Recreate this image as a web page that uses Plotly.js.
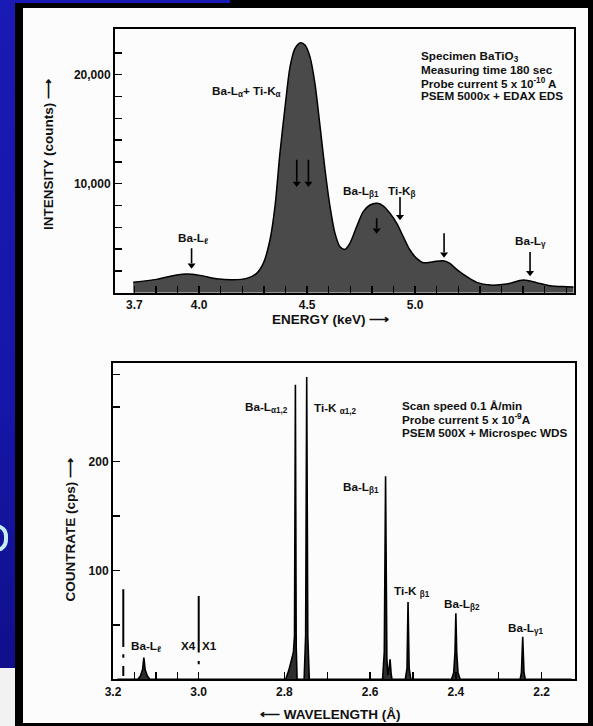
<!DOCTYPE html>
<html>
<head>
<meta charset="utf-8">
<script src="https://cdn.plot.ly/plotly-3.0.1.min.js"></script>
<style>
html,body{margin:0;padding:0;width:593px;height:726px;overflow:hidden;
  background:linear-gradient(180deg,#1a1ab4 0%,#1616a8 55%,#0e0e86 100%);}
#frame{position:absolute;left:15px;top:0;width:578px;height:726px;background:#000;}
#notch{position:absolute;left:15px;top:0;width:215px;height:3px;background:#1a1ab4;}
#paper{position:absolute;left:23px;top:8px;width:565px;height:715px;background:#fcfcfc;}
#slide{position:absolute;left:0;top:668px;width:15px;height:58px;background:#f2f2f2;}
#bowl{position:absolute;left:-6px;top:524px;width:10px;height:20px;border:4px solid #c4ecf4;border-left:none;border-radius:0 12px 12px 0;}
#chart{position:absolute;left:0;top:0;width:593px;height:726px;}
</style>
</head>
<body>
<div id="frame"></div><div id="notch"></div><div id="paper"></div><div id="slide"></div>
<div id="bowl"></div>
<div id="chart"></div>
<script>
// ---------- EDS spectrum (top) ----------
const energy = [3.695,3.803,3.896,3.942,4.004,4.081,4.158,4.220,4.266,4.297,4.328,4.351,4.374,4.398,4.421,4.444,4.470,4.490,4.513,4.536,4.560,4.583,4.606,4.629,4.652,4.675,4.698,4.729,4.760,4.791,4.825,4.853,4.884,4.915,4.945,4.976,5.007,5.038,5.084,5.131,5.161,5.192,5.239,5.285,5.347,5.424,5.501,5.563,5.624,5.702,5.733];
const counts = [948,1223,1621,1712,1590,1284,1193,1315,1774,2691,4832,7890,12782,17064,20733,22415,22935,22721,21651,19204,15229,11253,7890,5443,4220,3975,4526,6055,7431,8043,8195,7951,7278,6361,5137,3914,3150,2752,2844,2936,2691,2141,1468,948,703,795,1162,917,642,550,520];
// marked line positions (keV) and the intensity where each arrow points
const lineE = [3.965,4.452,4.506,4.822,4.930,5.134,5.532];
const lineTip = [2232,9724,9724,5443,6666,3241,1529];
const energyLabelTicks = [3.7,4.0,4.5,5.0];
const energyLabels = ['3.7','4.0','4.5','5.0'];
const energyMinorTicks = [3.8,3.9,4.1,4.2,4.3,4.4,4.6,4.7,4.8,4.9,5.1,5.2,5.3,5.4,5.5,5.6,5.7];
const countLabelTicks = [10000,20000];
const countLabels = ['10,000','20,000'];
const countMinorTicks = [2000,4000,6000,8000,12000,14000,16000,18000,22000];

// ---------- WDS spectrum (bottom) ----------
const wavelength = [3.19,3.142,3.136,3.131,3.128,3.125,3.120,3.114,2.797,2.790,2.784,2.779,2.7765,2.7744,2.7725,2.7705,2.754,2.7505,2.748,2.7455,2.742,2.571,2.567,2.564,2.561,2.559,2.5565,2.5535,2.551,2.549,2.518,2.514,2.5116,2.509,2.505,2.410,2.405,2.402,2.400,2.398,2.395,2.390,2.250,2.247,2.244,2.241,2.238,2.13];
const countrate = [0,0,3,9,20,9,3,0,0,8,17,25,40,270.6,30,0,0,40,277.7,40,0,0,25,186.5,20,4,8,18.3,5,0,0,10,71,10,0,0,6,25,60.6,25,6,0,0,6,39,6,0,0];
// gain-change markers (x4 / x1): wavelength and count-rate spans of each drawn segment
const markerX = [3.176,3.176,null,3.176,3.176,null,3.176,3.176,null,3.0,3.0,null,3.0,3.0];
const markerY = [82.6,29.7,null,22.9,19.9,null,12.2,3.1,null,76.5,24.5,null,16.8,13.8];
const wlLabelTicks = [3.2,3.0,2.8,2.6,2.4,2.2];
const wlLabels = ['3.2','3.0','2.8','2.6','2.4','2.2'];
const wlMinorTicks = [3.15,3.1,3.05,2.7,2.5,2.3];
const rateLabelTicks = [100,200];
const rateLabels = ['100','200'];
const rateMinorTicks = [50,150,250,280];

const W = 593, H = 726;
const FONT = '"Liberation Sans", Arial, Helvetica, sans-serif';
const fx = px => px / W, fy = py => 1 - py / H;

// top plot geometry (pixels) and range
const topY0 = 292.7, topY1 = 29.3, topRange = [0, 24160];
const cpp = (topRange[1] - topRange[0]) / (topY0 - topY1);   // counts per pixel
const arrowLen = [20,27,27,15,23,24,24];                      // pixels

const shaftX = [], shaftY = [], headX = [], headY = [];
lineE.forEach((e,i)=>{
  shaftX.push(e, e, null);
  shaftY.push(lineTip[i] + arrowLen[i]*cpp, lineTip[i] + 5*cpp, null);
  headX.push(e);
  headY.push(lineTip[i] + 3.2*cpp);
});

const traces = [
  {x: energy, y: counts, xaxis:'x', yaxis:'y', type:'scatter', mode:'lines',
   line:{color:'#000', width:1.5, shape:'spline', smoothing:0.8},
   fill:'tozeroy', fillcolor:'#4a4a4a', hoverinfo:'skip'},
  {x: shaftX, y: shaftY, xaxis:'x', yaxis:'y', type:'scatter', mode:'lines',
   line:{color:'#000', width:1.6}, connectgaps:false, hoverinfo:'skip'},
  {x: headX, y: headY, xaxis:'x', yaxis:'y', type:'scatter', mode:'markers',
   marker:{symbol:'triangle-down', size:7, color:'#000', line:{width:0}}, hoverinfo:'skip'},
  {x: wavelength, y: countrate, xaxis:'x2', yaxis:'y2', type:'scatter', mode:'lines',
   line:{color:'#000', width:1.6}, fill:'tozeroy', fillcolor:'#2e2e2e', hoverinfo:'skip'},
  {x: markerX, y: markerY, xaxis:'x2', yaxis:'y2', type:'scatter', mode:'lines',
   line:{color:'#000', width:2}, connectgaps:false, hoverinfo:'skip'}
];

function axisBase(minorVals){
  return {ticks:'inside', ticklen:7, tickwidth:1.5, tickcolor:'#000', showline:true, linewidth:2,
    linecolor:'#000', mirror:true, showgrid:false, zeroline:false, tickmode:'array',
    minor:{tickmode:'array', tickvals:minorVals, ticks:'inside', ticklen:7, tickwidth:1.5, tickcolor:'#000', showgrid:false},
    tickfont:{family:FONT, size:12, color:'#111', weight:'bold'}, fixedrange:true};
}
const layout = {
  width:W, height:H, margin:{l:0,r:0,t:0,b:0},
  paper_bgcolor:'rgba(0,0,0,0)', plot_bgcolor:'rgba(0,0,0,0)', showlegend:false,
  font:{family:FONT, color:'#111', size:12},
  xaxis:Object.assign(axisBase(energyMinorTicks), {domain:[fx(115), fx(574)], anchor:'y', range:[3.6105,5.7355],
    tickvals:energyLabelTicks, ticktext:energyLabels}),
  yaxis:Object.assign(axisBase(countMinorTicks), {domain:[fy(topY0), fy(topY1)], anchor:'x', range:topRange,
    tickvals:countLabelTicks, ticktext:countLabels}),
  xaxis2:Object.assign(axisBase(wlMinorTicks), {domain:[fx(113), fx(575)], anchor:'y2', range:[3.2,2.122],
    tickvals:wlLabelTicks, ticktext:wlLabels}),
  yaxis2:Object.assign(axisBase(rateMinorTicks), {domain:[fy(679.3), fy(363)], anchor:'x2', range:[0,290.5],
    tickvals:rateLabelTicks, ticktext:rateLabels}),
  annotations:[]
};
const ann = layout.annotations;
const lab = {family:FONT, size:11.7, color:'#111', weight:'bold'};
const ttl = {family:FONT, size:13.5, color:'#111', weight:'bold'};

// peak labels (top)
[
  ['Ba-L<sub>α</sub>+ Ti-K<sub>α</sub>', 4.217, 18456],
  ['Ba-L<sub>β1</sub>', 4.749, 9306],
  ['Ti-K<sub>β</sub>', 4.939, 9306],
  ['Ba-L<sub>γ</sub>', 5.536, 4730],
  ['Ba-L<sub>ℓ</sub>', 3.972, 5005]
].forEach(a=>ann.push({xref:'x', yref:'y', x:a[1], y:a[2], text:a[0], showarrow:false, font:lab,
  xanchor:'center', yanchor:'middle'}));

// peak labels (bottom)
[
  ['Ba-L<sub>α1,2</sub>', 2.8407, 250],
  ['Ti-K <sub>α1,2</sub>', 2.682, 249],
  ['Ba-L<sub>β1</sub>', 2.6214, 175.8],
  ['Ti-K <sub>β1</sub>', 2.5024, 80.2],
  ['Ba-L<sub>β2</sub>', 2.3857, 68.3],
  ['Ba-L<sub>γ1</sub>', 2.2364, 47.1],
  ['Ba-L<sub>ℓ</sub>', 3.123, 29.7],
  ['X4', 3.025, 30.6],
  ['X1', 2.9737, 30.6]
].forEach(a=>ann.push({xref:'x2', yref:'y2', x:a[1], y:a[2], text:a[0], showarrow:false, font:lab,
  xanchor:'center', yanchor:'middle'}));

// info blocks
const info1 = ['Specimen BaTiO<sub>3</sub>', 'Measuring time 180 sec', 'Probe current 5 x 10<sup>-10</sup> A', 'PSEM 5000x + EDAX EDS'];
const info1y = [56, 69, 82.7, 95.7];
info1.forEach((t,i)=>ann.push({xref:'paper', yref:'paper', x:fx(419), y:fy(info1y[i]), xanchor:'left', yanchor:'middle',
  text:t, showarrow:false, font:lab}));
const info2 = ['Scan speed 0.1 Å/min', 'Probe current 5 x 10<sup>-9</sup>A', 'PSEM 500X + Microspec WDS'];
const info2y = [405, 419, 432];
info2.forEach((t,i)=>ann.push({xref:'paper', yref:'paper', x:fx(400), y:fy(info2y[i]), xanchor:'left', yanchor:'middle',
  text:t, showarrow:false, font:lab}));

// axis titles
const T = (x,y,text,angle)=>ann.push({xref:'paper', yref:'paper', x:fx(x), y:fy(y), xanchor:'center', yanchor:'middle',
  text:text, textangle:angle||0, showarrow:false, font:ttl});
T(48, 155, 'INTENSITY (counts) ⟶', -90);
T(69.5, 530, 'COUNTRATE (cps) ⟶', -90);
T(330.5, 319, 'ENERGY (keV) ⟶');
T(330, 714.5, '⟵ WAVELENGTH (Å)');

Plotly.newPlot('chart', traces, layout, {displayModeBar:false, staticPlot:true});
</script>
</body>
</html>
